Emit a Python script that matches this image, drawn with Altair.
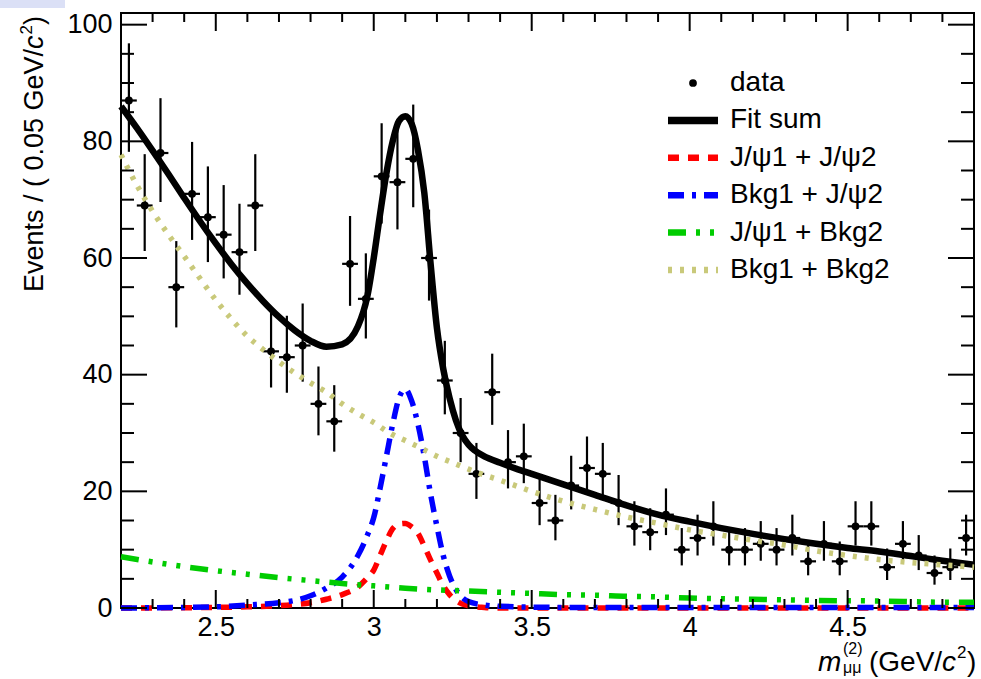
import altair as alt
import pandas as pd

# ---------------- data ----------------
bin_centers = [2.225, 2.275, 2.325, 2.375, 2.425, 2.475, 2.525, 2.575, 2.625, 2.675,
               2.725, 2.775, 2.825, 2.875, 2.925, 2.975, 3.025, 3.075, 3.125, 3.175,
               3.225, 3.275, 3.325, 3.375, 3.425, 3.475, 3.525, 3.575, 3.625, 3.675,
               3.725, 3.775, 3.825, 3.875, 3.925, 3.975, 4.025, 4.075, 4.125, 4.175,
               4.225, 4.275, 4.325, 4.375, 4.425, 4.475, 4.525, 4.575, 4.625, 4.675,
               4.725, 4.775, 4.825, 4.875]
counts = [87, 69, 78, 55, 71, 67, 64, 61, 69, 44,
          43, 45, 35, 32, 59, 53, 74, 73, 77, 60,
          39, 30, 23, 37, 25, 26, 18, 15, 21, 24,
          23, 18, 14, 13, 16, 10, 12, 14, 10, 10,
          11, 10, 12, 8, 11, 8, 14, 14, 7, 11,
          9, 6, 7, 12]
err_lo = [8.8, 7.8, 8.4, 6.9, 7.9, 7.7, 7.5, 7.3, 7.8, 6.2,
          6.1, 6.2, 5.4, 5.2, 7.2, 6.8, 8.1, 8.1, 8.3, 7.3,
          5.8, 5.0, 4.3, 5.6, 4.5, 4.6, 3.8, 3.4, 4.1, 4.4,
          4.3, 3.8, 3.3, 3.1, 3.5, 2.7, 3.0, 3.3, 2.7, 2.7,
          2.9, 2.7, 3.0, 2.4, 2.9, 2.4, 3.3, 3.3, 2.2, 2.9,
          2.5, 2.0, 2.2, 3.0]
err_hi = [9.8, 8.8, 9.4, 7.9, 8.9, 8.7, 8.5, 8.3, 8.8, 7.2,
          7.1, 7.2, 6.4, 6.2, 8.2, 7.8, 9.1, 9.1, 9.3, 8.3,
          6.8, 6.0, 5.3, 6.6, 5.5, 5.6, 4.8, 4.4, 5.1, 5.4,
          5.3, 4.8, 4.3, 4.1, 4.5, 3.7, 4.0, 4.3, 3.7, 3.7,
          3.9, 3.7, 4.0, 3.4, 3.9, 3.4, 4.3, 4.3, 3.2, 3.9,
          3.5, 3.0, 3.2, 4.0]
bin_half_width = 0.025

fit_x = [2.20, 2.25, 2.30, 2.35, 2.40, 2.45, 2.50, 2.55, 2.60, 2.65, 2.70, 2.75, 2.80,
         2.85, 2.90, 2.95, 2.98, 3.00, 3.02, 3.04, 3.06, 3.08, 3.10, 3.12, 3.14, 3.16,
         3.18, 3.20, 3.22, 3.24, 3.26, 3.28, 3.30, 3.32, 3.35, 3.40, 3.45, 3.50, 3.60,
         3.70, 3.80, 3.90, 4.00, 4.10, 4.20, 4.30, 4.40, 4.50, 4.60, 4.70, 4.80, 4.90]
fit_y = [86.0, 82.3, 78.4, 74.4, 70.3, 66.3, 62.5, 58.9, 55.6, 52.6, 49.9, 47.6, 45.8,
         44.8, 45.2, 48.3, 53.5, 60.0, 67.5, 74.5, 80.0, 83.5, 84.3, 83.0, 78.5, 71.2,
         59.0, 48.0, 41.0, 36.0, 32.2, 29.6, 28.0, 27.0, 26.0, 24.9, 23.9, 23.0, 21.2,
         19.4, 17.6, 16.0, 14.8, 13.7, 12.7, 11.8, 11.0, 10.3, 9.7, 8.9, 8.1, 7.4]

bb_x = [2.20, 2.25, 2.30, 2.35, 2.40, 2.45, 2.50, 2.55, 2.60, 2.65, 2.70, 2.75, 2.80,
        2.85, 2.90, 2.95, 3.00, 3.05, 3.10, 3.15, 3.20, 3.25, 3.30, 3.35, 3.40, 3.50,
        3.60, 3.70, 3.80, 3.90, 4.00, 4.10, 4.20, 4.30, 4.40, 4.50, 4.60, 4.70, 4.80, 4.90]
bb_y = [77.7, 72.5, 68.0, 64.0, 60.3, 56.5, 52.8, 49.5, 46.6, 44.3, 42.2, 40.3, 38.6,
        37.0, 35.0, 33.3, 31.8, 30.0, 28.7, 27.4, 26.0, 24.9, 23.8, 22.8, 21.9, 20.0,
        18.3, 16.9, 15.6, 14.5, 13.4, 12.5, 11.6, 10.8, 9.8, 9.0, 8.3, 7.8, 7.4, 7.0]

jb_x = [2.20, 2.30, 2.40, 2.50, 2.60, 2.70, 2.80, 2.90, 3.00, 3.10, 3.20, 3.30, 3.40,
        3.50, 3.60, 3.70, 3.80, 3.90, 4.00, 4.20, 4.40, 4.60, 4.80, 4.90]
jb_y = [8.8, 7.9, 7.1, 6.4, 5.8, 5.2, 4.7, 4.2, 3.8, 3.4, 3.1, 2.9, 2.7,
        2.5, 2.3, 2.2, 2.0, 1.9, 1.7, 1.5, 1.3, 1.2, 1.0, 1.0]

jj_x = [2.20, 2.50, 2.60, 2.70, 2.75, 2.80, 2.85, 2.90, 2.95, 2.98, 3.00, 3.02, 3.04,
        3.06, 3.08, 3.10, 3.12, 3.14, 3.16, 3.18, 3.20, 3.22, 3.24, 3.26, 3.28, 3.30,
        3.35, 3.40, 4.90]
jj_y = [0.0, 0.1, 0.2, 0.4, 0.6, 0.9, 1.5, 2.3, 3.6, 5.2, 6.5, 9.0, 11.5,
        13.6, 14.4, 14.5, 13.9, 12.8, 10.6, 8.2, 6.0, 3.8, 2.3, 1.3, 0.7, 0.4,
        0.1, 0.0, 0.0]

bj_x = [2.20, 2.50, 2.60, 2.70, 2.75, 2.80, 2.85, 2.90, 2.95, 2.98, 3.00, 3.02, 3.04,
        3.06, 3.08, 3.10, 3.12, 3.14, 3.16, 3.18, 3.20, 3.22, 3.24, 3.26, 3.28, 3.30,
        3.35, 3.40, 3.60, 4.90]
bj_y = [0.0, 0.2, 0.5, 0.9, 1.3, 2.1, 3.4, 5.3, 9.0, 12.5, 15.5, 20.5, 26.0,
        31.5, 36.0, 37.5, 35.5, 31.5, 26.0, 19.5, 14.0, 9.0, 5.5, 3.2, 1.8, 1.1,
        0.5, 0.3, 0.1, 0.1]

legend_labels = ["data", "Fit sum", "J/\u03c81 + J/\u03c82", "Bkg1 + J/\u03c82",
                 "J/\u03c81 + Bkg2", "Bkg1 + Bkg2"]
x_major = [2.5, 3.0, 3.5, 4.0, 4.5]
x_minor = [2.3, 2.4, 2.6, 2.7, 2.8, 2.9, 3.1, 3.2, 3.3, 3.4, 3.6, 3.7, 3.8, 3.9,
           4.1, 4.2, 4.3, 4.4, 4.6, 4.7, 4.8]
y_major = [0, 20, 40, 60, 80, 100]
y_minor = [5, 10, 15, 25, 30, 35, 45, 50, 55, 65, 70, 75, 85, 90, 95]

# ---------------- styles ----------------
FONT = "Liberation Sans"
W, H = 853, 595
PAD_L, PAD_T = 121, 13
C_RED, C_BLUE, C_GREEN, C_KHAKI = "#ff0000", "#0000ff", "#00cc00", "#c9c97a"
DASH_RED = [11, 9]
DASH_BLUE = [16, 8, 4, 8]
DASH_GREEN = [18, 10, 4, 10, 4, 10, 4, 10]
DASH_KHAKI = [4, 8]

xs = alt.Scale(domain=[2.2, 4.9], nice=False, zero=False)
ys = alt.Scale(domain=[0, 102], nice=False, zero=False)
x_axis = alt.Axis(values=x_major, format="~g", ticks=False, domain=False, grid=False,
                  labelFont=FONT, labelFontSize=27, labelColor="black", labelPadding=6,
                  title=None)
y_axis = alt.Axis(values=y_major, format="d", ticks=False, domain=False, grid=False,
                  labelFont=FONT, labelFontSize=27, labelColor="black", labelPadding=9,
                  title=None)


def X(field="x"):
    return alt.X(f"{field}:Q", scale=xs, axis=x_axis)


def Y(field="y"):
    return alt.Y(f"{field}:Q", scale=ys, axis=y_axis)


pts = pd.DataFrame({
    "x": bin_centers,
    "n": counts,
    "lo": [n - e for n, e in zip(counts, err_lo)],
    "hi": [n + e for n, e in zip(counts, err_hi)],
    "xl": [x - bin_half_width for x in bin_centers],
    "xh": [x + bin_half_width for x in bin_centers],
})

layers = []
# data points with error bars
layers.append(alt.Chart(pts).mark_rule(color="black", strokeWidth=2.2).encode(
    x=X("x"), y=Y("lo"), y2="hi"))
layers.append(alt.Chart(pts).mark_rule(color="black", strokeWidth=2.2).encode(
    x=X("xl"), x2="xh", y=Y("n")))
layers.append(alt.Chart(pts).mark_point(filled=True, color="black", opacity=1, size=62,
                                        shape="circle").encode(x=X("x"), y=Y("n")))


def curve(xv, yv, color, width, dash=None):
    df = pd.DataFrame({"x": xv, "y": yv})
    kw = dict(color=color, strokeWidth=width, interpolate="monotone", strokeCap="butt")
    if dash:
        kw["strokeDash"] = dash
    return alt.Chart(df).mark_line(**kw).encode(x=X("x"), y=Y("y"))


layers.append(curve(fit_x, fit_y, "black", 6.5))
layers.append(curve(jj_x, jj_y, C_RED, 5.5, DASH_RED))
layers.append(curve(bj_x, bj_y, C_BLUE, 5.5, DASH_BLUE))
layers.append(curve(jb_x, jb_y, C_GREEN, 5.5, DASH_GREEN))
layers.append(curve(bb_x, bb_y, C_KHAKI, 5.5, DASH_KHAKI))


# inside ticks on all four sides (frame style)
def vticks(vals, y0, y1):
    df = pd.DataFrame({"x": vals})
    return alt.Chart(df).mark_rule(color="black", strokeWidth=2).encode(
        x=X("x"), y=alt.value(y0), y2=alt.value(y1))


def hticks(vals, x0, x1):
    df = pd.DataFrame({"y": vals})
    return alt.Chart(df).mark_rule(color="black", strokeWidth=2).encode(
        y=Y("y"), x=alt.value(x0), x2=alt.value(x1))


layers += [
    vticks(x_major, H, H - 18), vticks(x_minor, H, H - 9),
    vticks(x_major, 0, 18), vticks(x_minor, 0, 9),
    hticks(y_major, 0, 26), hticks(y_minor, 0, 13),
    hticks(y_major, W, W - 26), hticks(y_minor, W, W - 13),
]

# legend (drawn by hand, ROOT style)
LEG_SX0, LEG_SX1, LEG_TX = 668 - PAD_L, 718 - PAD_L, 730 - PAD_L
leg_rows = [83 - PAD_T + i * 37.4 for i in range(len(legend_labels))]
leg_df = pd.DataFrame({"label": legend_labels, "py": leg_rows})
layers.append(alt.Chart(leg_df).mark_text(font=FONT, fontSize=28, align="left",
                                          baseline="middle", color="black").encode(
    x=alt.value(LEG_TX), y=alt.Y("py:Q", scale=None), text="label:N"))
layers.append(alt.Chart(leg_df.iloc[[0]]).mark_point(filled=True, color="black",
                                                     opacity=1, size=60).encode(
    x=alt.value((LEG_SX0 + LEG_SX1) / 2), y=alt.Y("py:Q", scale=None)))
leg_styles = [("black", 7.5, None), (C_RED, 6.5, DASH_RED), (C_BLUE, 6.5, DASH_BLUE),
              (C_GREEN, 6.5, DASH_GREEN), (C_KHAKI, 6.5, DASH_KHAKI)]
for i, (col, w, dash) in enumerate(leg_styles):
    kw = dict(color=col, strokeWidth=w, strokeCap="butt")
    if dash:
        kw["strokeDash"] = dash
    layers.append(alt.Chart(leg_df.iloc[[i + 1]]).mark_rule(**kw).encode(
        x=alt.value(LEG_SX0), x2=alt.value(LEG_SX1), y=alt.Y("py:Q", scale=None)))

# axis titles built from pieces (italic c, super/subscripts)
one = pd.DataFrame({"t": [""]})


def txt(s, px, py, size, style="normal", angle=0):
    kw = dict(text=s, font=FONT, fontSize=size, fontStyle=style, align="left",
              baseline="alphabetic", color="black")
    if angle:
        kw["angle"] = angle
    return alt.Chart(one).mark_text(**kw).encode(
        x=alt.value(px - PAD_L), y=alt.value(py - PAD_T))


layers += [
    # x title: m^(2)_{mu mu} (GeV/c^2)
    txt("m", 818, 671, 28, "italic"),
    txt("(2)", 843, 654, 16),
    txt("\u03bc\u03bc", 843, 673, 16),
    txt("(GeV/", 869, 671, 28),
    txt("c", 942, 671, 28, "italic"),
    txt("2", 957, 658, 17),
    txt(")", 967, 671, 28),
    # y title: Events / ( 0.05 GeV/c^2 ), rotated
    txt("Events / ( 0.05 GeV/", 43, 292, 27, angle=270),
    txt("c", 43, 49, 27, "italic", angle=270),
    txt("2", 32, 34.5, 17, angle=270),
    txt(" )", 43, 25, 27, angle=270),
]

# small light screenshot artefact at the top-left corner
layers.append(alt.Chart(one).mark_rect(color="#dbe0f6").encode(
    x=alt.value(-PAD_L), x2=alt.value(65 - PAD_L), y=alt.value(-PAD_T),
    y2=alt.value(8 - PAD_T)))

chart = alt.layer(*layers).properties(
    width=W, height=H,
    autosize=alt.AutoSizeParams(type="none"),
    padding={"left": PAD_L, "top": PAD_T, "right": 981 - PAD_L - W,
             "bottom": 679 - PAD_T - H},
    background="white",
).configure_view(stroke="black", strokeWidth=2)

chart.save("out.html", embed_options={"renderer": "svg", "actions": False})
